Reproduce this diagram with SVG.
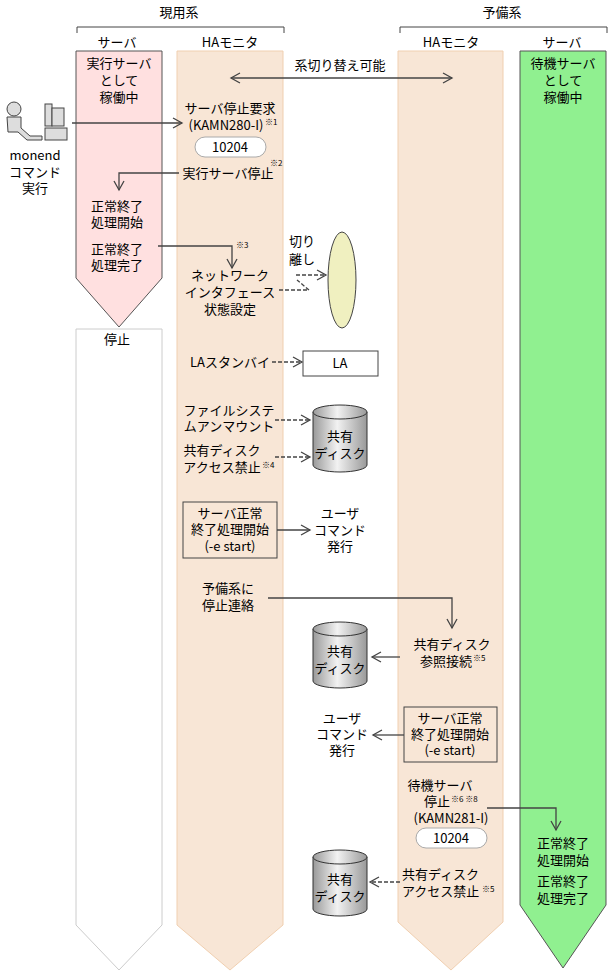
<svg xmlns="http://www.w3.org/2000/svg" width="608" height="975" viewBox="0 0 608 975">
<style>
text{font-family:"Noto Sans CJK JP","Liberation Sans",sans-serif;font-size:13px;fill:#000;text-anchor:middle}
.l{text-anchor:start}.r{text-anchor:end}
.s{font-size:8px}
.ln{fill:none;stroke:#444;stroke-width:1.3}
.d{fill:none;stroke:#444;stroke-width:1.3;stroke-dasharray:4,2}
.cyl{fill:url(#g);stroke:#333;stroke-width:1}
</style>
<defs>
<marker id="a" markerWidth="12" markerHeight="12" refX="10" refY="6" orient="auto" markerUnits="userSpaceOnUse"><path d="M1,1 L10,6 L1,11" fill="none" stroke="#444" stroke-width="1.3"/></marker>
<marker id="b" markerWidth="12" markerHeight="12" refX="2" refY="6" orient="auto" markerUnits="userSpaceOnUse"><path d="M11,1 L2,6 L11,11" fill="none" stroke="#444" stroke-width="1.3"/></marker>
<linearGradient id="g" x1="0" x2="1"><stop offset="0" stop-color="#999"/><stop offset="0.45" stop-color="#f2f2f2"/><stop offset="1" stop-color="#999"/></linearGradient>
</defs>
<g id="header">
<text x="179" y="17">現用系</text><text x="502" y="17">予備系</text>
<path d="M77,33 V27 H284 V33 M400,33 V27 H607 V33" fill="none" stroke="#444"/>
<text x="117" y="47">サーバ</text><text x="230" y="47">HAモニタ</text><text x="451" y="47">HAモニタ</text><text x="562" y="47">サーバ</text>
</g>
<g id="lanes">
<path d="M76,51 H162 V278 L119,327 L76,278 Z" fill="#ffe0e0" stroke="#555"/>
<path d="M76,329 H162 V925 L119,970 L76,925 Z" fill="#fff" stroke="#ccc"/>
<path d="M177,51 H283 V925 L230,970 L177,925 Z" fill="#f8e6d6" stroke="#f0cfb0"/>
<path d="M398,51 H503 V922 L451,970 L398,922 Z" fill="#f8e6d6" stroke="#f0cfb0"/>
<path d="M520,51 H606 V905 L563,968 L520,905 Z" fill="#90f090" stroke="#555"/>
</g>
<g id="connectors">
<line x1="231" y1="78" x2="452" y2="78" class="ln" marker-start="url(#b)" marker-end="url(#a)"/>
<line x1="72" y1="123" x2="182" y2="123" class="ln" marker-end="url(#a)"/>
<path d="M179,173 H119 V190" class="ln" marker-end="url(#a)"/>
<path d="M158,246 H232 V268" class="ln" marker-end="url(#a)"/>
<path d="M296,275 H326" class="d" marker-end="url(#a)"/>
<path d="M279,290 H309 L297,280" class="d"/>
<line x1="272" y1="362" x2="302" y2="362" class="d" marker-end="url(#a)"/>
<line x1="275" y1="420" x2="310" y2="420" class="d" marker-end="url(#a)"/>
<line x1="275" y1="457" x2="310" y2="457" class="d" marker-end="url(#a)"/>
<line x1="277" y1="530" x2="310" y2="530" class="ln" marker-end="url(#a)"/>
<path d="M268,598 H452 V628" class="ln" marker-end="url(#a)"/>
<line x1="400" y1="657" x2="372" y2="657" class="ln" marker-end="url(#a)"/>
<line x1="404" y1="735" x2="373" y2="735" class="ln" marker-end="url(#a)"/>
<path d="M487,808 H556 V830" class="ln" marker-end="url(#a)"/>
<line x1="400" y1="882" x2="370" y2="882" class="d" marker-end="url(#a)"/>
</g>
<g id="texts">
<text x="340" y="70">系切り替え可能</text>
<text x="119" y="68">実行サーバ</text><text x="119" y="85">として</text><text x="119" y="102">稼働中</text>
<text x="563" y="68">待機サーバ</text><text x="563" y="85">として</text><text x="563" y="102">稼働中</text>
<text x="35" y="160">monend</text><text x="35" y="177">コマンド</text><text x="35" y="193">実行</text>
<text x="230" y="113">サーバ停止要求</text><text x="226" y="130">(KAMN280-I)</text><text x="265" y="125" class="s l">※1</text>
<rect x="195" y="137" width="71" height="20" rx="10" fill="#fff" stroke="#aaa"/><text x="230" y="152">10204</text>
<text x="228" y="178">実行サーバ停止</text><text x="270" y="166" class="s l">※2</text>
<text x="117" y="211">正常終了</text><text x="117" y="227">処理開始</text>
<text x="117" y="254">正常終了</text><text x="117" y="270">処理完了</text>
<text x="236" y="248" class="s l">※3</text>
<text x="230" y="280">ネットワーク</text><text x="230" y="297">インタフェース</text><text x="230" y="314">状態設定</text>
<text x="289" y="246" class="l">切り</text><text x="289" y="264" class="l">離し</text>
<text x="117" y="344">停止</text>
<text x="270" y="367" class="r">LAスタンバイ</text>
<text x="229" y="415">ファイルシステ</text><text x="229" y="431">ムアンマウント</text>
<text x="222" y="455">共有ディスク</text><text x="222" y="472">アクセス禁止</text><text x="262" y="468" class="s l">※4</text>
<text x="230" y="518">サーバ正常</text><text x="230" y="534">終了処理開始</text><text x="230" y="551">(-e start)</text>
<text x="340" y="518">ユーザ</text><text x="340" y="535">コマンド</text><text x="340" y="551">発行</text>
<text x="228" y="593">予備系に</text><text x="228" y="610">停止連絡</text>
<text x="452" y="649">共有ディスク</text><text x="446" y="666">参照接続</text><text x="473" y="661" class="s l">※5</text>
<text x="450" y="723">サーバ正常</text><text x="450" y="739">終了処理開始</text><text x="450" y="755">(-e start)</text>
<text x="342" y="723">ユーザ</text><text x="342" y="739">コマンド</text><text x="342" y="755">発行</text>
<text x="440" y="790">待機サーバ</text><text x="450" y="806" class="r">停止</text><text x="451" y="802" class="s l">※6 ※8</text>
<text x="451" y="823">(KAMN281-I)</text>
<rect x="416" y="828" width="71" height="20" rx="10" fill="#fff" stroke="#aaa"/><text x="451" y="843">10204</text>
<text x="563" y="848">正常終了</text><text x="563" y="865">処理開始</text><text x="563" y="886">正常終了</text><text x="563" y="903">処理完了</text>
<text x="402" y="879" class="l">共有ディスク</text><text x="402" y="896" class="l">アクセス禁止</text><text x="482" y="892" class="s l">※5</text>
</g>
<g id="person">
<circle cx="14" cy="109" r="7" fill="#ddd" stroke="#444"/>
<path d="M7,117 H21 V128 L30,136 H42 V140 H27 L18,132 H8 Z" fill="#ddd" stroke="#444"/>
<rect x="45" y="104" width="7" height="22" fill="#ddd" stroke="#444"/>
<rect x="52" y="108" width="12" height="18" fill="#ddd" stroke="#444"/>
<rect x="45" y="128" width="22" height="12" fill="#ddd" stroke="#444"/>
</g>
<g id="ellipse"><ellipse cx="342" cy="280" rx="14" ry="48" fill="#f0f0c0" stroke="#444"/></g>
<g id="la"><rect x="303" y="351" width="75" height="25" fill="#fff" stroke="#444"/><text x="340" y="368">LA</text></g>
<g id="disk1"><path d="M313,412 V465 A27,7 0 0 0 367,465 V412" class="cyl"/><ellipse cx="340" cy="412" rx="27" ry="7" class="cyl"/><text x="340" y="441">共有</text><text x="340" y="458">ディスク</text></g>
<g id="box1"><rect x="183" y="502" width="94" height="56" fill="none" stroke="#444"/></g>
<g id="disk2"><path d="M313,629 V681 A27,7 0 0 0 367,681 V629" class="cyl"/><ellipse cx="340" cy="629" rx="27" ry="7" class="cyl"/><text x="340" y="656">共有</text><text x="340" y="673">ディスク</text></g>
<g id="box2"><rect x="404" y="707" width="93" height="55" fill="none" stroke="#444"/></g>
<g id="disk3"><path d="M313,857 V909 A27,7 0 0 0 367,909 V857" class="cyl"/><ellipse cx="340" cy="857" rx="27" ry="7" class="cyl"/><text x="340" y="884">共有</text><text x="340" y="901">ディスク</text></g>
</svg>
